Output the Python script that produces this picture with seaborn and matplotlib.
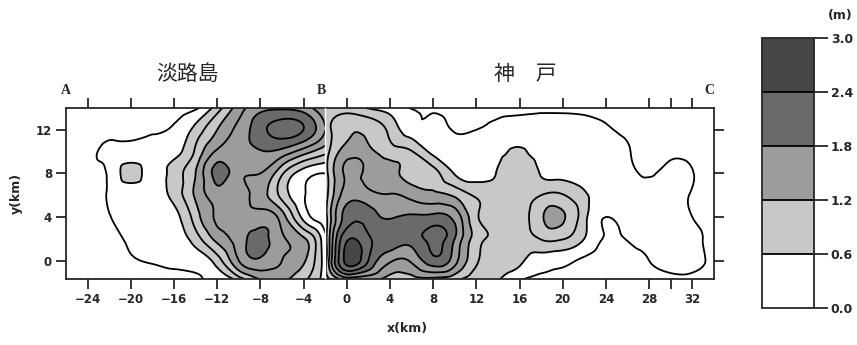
import numpy as np
import matplotlib
matplotlib.use("Agg")
import matplotlib.pyplot as plt
import matplotlib.tri as mtri
import seaborn as sns

sns.set_style("ticks")
plt.rcParams["font.family"] = ["Liberation Sans Narrow", "DejaVu Sans"]

# ---- slip grid (m) on the fault plane, 2 km node spacing ----
y_km = [-2, 0, 2, 4, 6, 8, 10, 12, 14]

# Awaji segment (A-B)
x_awaji = [-26, -24, -22, -20, -18, -16, -14, -12, -10, -8, -6, -4, -2]
slip_awaji = [
    [0.05, 0.08, 0.12, 0.15, 0.18, 0.20, 0.25, 0.35, 0.55, 1.10, 1.20, 0.90, 0.45],  # y=-2
    [0.08, 0.12, 0.20, 0.28, 0.32, 0.35, 0.40, 0.75, 1.50, 1.75, 1.50, 1.25, 0.45],  # y=0
    [0.10, 0.15, 0.25, 0.33, 0.40, 0.45, 0.75, 1.30, 1.65, 1.90, 1.55, 1.25, 0.35],  # y=2
    [0.12, 0.18, 0.29, 0.38, 0.42, 0.50, 1.05, 1.55, 1.60, 1.65, 1.35, 0.50, 0.15],  # y=4
    [0.15, 0.20, 0.32, 0.40, 0.45, 0.70, 1.25, 1.65, 1.60, 1.35, 0.80, 0.32, 0.15],  # y=6
    [0.15, 0.25, 0.35, 0.72, 0.45, 0.75, 1.20, 1.90, 1.60, 1.50, 0.95, 0.45, 0.30],  # y=8
    [0.15, 0.25, 0.35, 0.40, 0.40, 0.50, 0.95, 1.55, 1.72, 1.78, 1.70, 1.35, 1.00],  # y=10
    [0.10, 0.15, 0.20, 0.22, 0.25, 0.35, 0.70, 1.20, 1.60, 2.00, 2.22, 2.10, 1.50],  # y=12
    [0.05, 0.08, 0.10, 0.12, 0.15, 0.20, 0.25, 0.75, 1.35, 1.70, 1.75, 1.65, 1.20],  # y=14
]

# Kobe segment (B-C)
x_kobe = [-2, 0, 2, 4, 6, 8, 10, 12, 14, 16, 18, 20, 22, 24, 26, 28, 30, 32, 34]
slip_kobe = [
    [0.70, 0.95, 1.00, 1.00, 1.00, 0.95, 0.85, 0.75, 0.60, 0.25, 0.22, 0.20, 0.15, 0.12, 0.12, 0.15, 0.20, 0.22, 0.15],  # y=-2
    [0.75, 2.50, 2.10, 1.55, 1.55, 2.00, 1.62, 0.95, 0.75, 0.65, 0.45, 0.38, 0.25, 0.20, 0.22, 0.30, 0.38, 0.36, 0.25],  # y=0
    [0.75, 2.35, 2.15, 2.00, 1.95, 2.20, 1.80, 1.05, 0.80, 0.75, 0.92, 0.92, 0.60, 0.27, 0.32, 0.38, 0.40, 0.36, 0.22],  # y=2
    [0.75, 1.95, 1.95, 1.78, 1.85, 1.88, 1.70, 0.95, 0.80, 0.78, 1.15, 1.24, 0.70, 0.30, 0.42, 0.40, 0.38, 0.30, 0.20],  # y=4
    [0.75, 1.65, 1.60, 1.52, 1.40, 1.28, 1.15, 0.85, 0.75, 0.72, 0.90, 0.92, 0.65, 0.50, 0.42, 0.38, 0.36, 0.28, 0.15],  # y=6
    [0.75, 1.55, 1.42, 1.30, 1.10, 1.02, 0.58, 0.50, 0.62, 0.75, 0.58, 0.50, 0.45, 0.40, 0.35, 0.28, 0.36, 0.31, 0.15],  # y=8
    [0.75, 1.35, 1.30, 1.05, 0.92, 0.50, 0.42, 0.45, 0.55, 0.62, 0.52, 0.45, 0.42, 0.38, 0.32, 0.22, 0.25, 0.22, 0.12],  # y=10
    [0.75, 1.15, 1.12, 0.82, 0.42, 0.36, 0.28, 0.30, 0.38, 0.42, 0.42, 0.40, 0.38, 0.33, 0.25, 0.20, 0.17, 0.13, 0.10],  # y=12
    [0.70, 0.75, 0.58, 0.42, 0.29, 0.22, 0.20, 0.22, 0.25, 0.27, 0.27, 0.27, 0.26, 0.22, 0.18, 0.15, 0.12, 0.10, 0.08],  # y=14
]

x_ticks = [-24, -20, -16, -12, -8, -4, 0, 4, 8, 12, 16, 20, 24, 28, 32]
y_ticks = [0, 4, 8, 12]
slip_bounds = [0.0, 0.6, 1.2, 1.8, 2.4, 3.0]
line_levels = [0.3, 0.6, 0.9, 1.2, 1.5, 1.8, 2.1, 2.4]
section_marks = [("A", -26.0), ("B", -2.3), ("C", 33.6)]

fill_colors = sns.color_palette(["#ffffff", "#c8c8c8", "#9c9c9c", "#6a6a6a", "#474747"])

fig = plt.figure(figsize=(8.57, 3.45), dpi=100)
ax = fig.add_axes([0.077, 0.191, 0.756, 0.496])

for xs, zs in ((x_awaji, slip_awaji), (x_kobe, slip_kobe)):
    X, Y = np.meshgrid(xs, y_km)
    tri = mtri.Triangulation(X.ravel(), Y.ravel())
    # smooth surface through the grid nodes (cubic patches on a refined mesh)
    tri_f, z_f = mtri.UniformTriRefiner(tri).refine_field(
        np.asarray(zs, dtype=float).ravel(), subdiv=3)
    z_f = np.clip(z_f, 0.01, 2.99)
    cf = ax.tricontourf(tri_f, z_f, levels=slip_bounds, colors=fill_colors)
    ax.tricontour(tri_f, z_f, levels=line_levels, colors="black", linewidths=1.3)

# seam between the two fault segments
ax.axvline(-2, color="white", lw=1.0, zorder=3)

ax.set_xlim(-26, 34)
ax.set_ylim(-1.7, 14)
ax.set_aspect("auto")
ax.set_xticks(x_ticks)
ax.set_xticks([30], minor=True)
ax.set_yticks(y_ticks)
ax.tick_params(axis="both", which="both", direction="out", length=7, width=1.3,
               top=True, right=True, labeltop=False, labelright=False,
               labelsize=8.5, pad=3)
for lab in ax.get_xticklabels() + ax.get_yticklabels():
    lab.set_fontweight("bold")
for s in ax.spines.values():
    s.set_linewidth(1.3)
    s.set_visible(True)

fig.text(0.475, 0.048, "x(km)", ha="center", va="center", fontsize=9, fontweight="bold")
fig.text(0.019, 0.438, "y(km)", ha="center", va="center", rotation=90,
         fontsize=9, fontweight="bold")

for name, xpos in section_marks:
    ax.text(xpos, 15.6, name, ha="center", va="center", fontsize=10,
            fontweight="bold", family=["Liberation Serif", "DejaVu Serif"])

cjk = ["Noto Sans CJK JP", "DejaVu Sans"]
ax.text(-14.7, 17.1, "淡路島", ha="center", va="center", fontsize=15, family=cjk)
ax.text(16.5, 17.1, "神　戸", ha="center", va="center", fontsize=15, family=cjk)

# colour scale
cax = fig.add_axes([0.889, 0.107, 0.061, 0.783])
cb = fig.colorbar(cf, cax=cax, ticks=slip_bounds, drawedges=True)
cb.outline.set_linewidth(1.3)
cb.dividers.set_linewidth(1.3)
cb.dividers.set_color("black")
cax.tick_params(direction="out", length=10, width=1.3, labelsize=9, pad=2)
cax.set_yticklabels([f"{v:.1f}" for v in slip_bounds], fontweight="bold")
fig.text(0.981, 0.955, "(m)", ha="center", va="center", fontsize=9, fontweight="bold")

fig.savefig("out.png", dpi=100, facecolor="white")
